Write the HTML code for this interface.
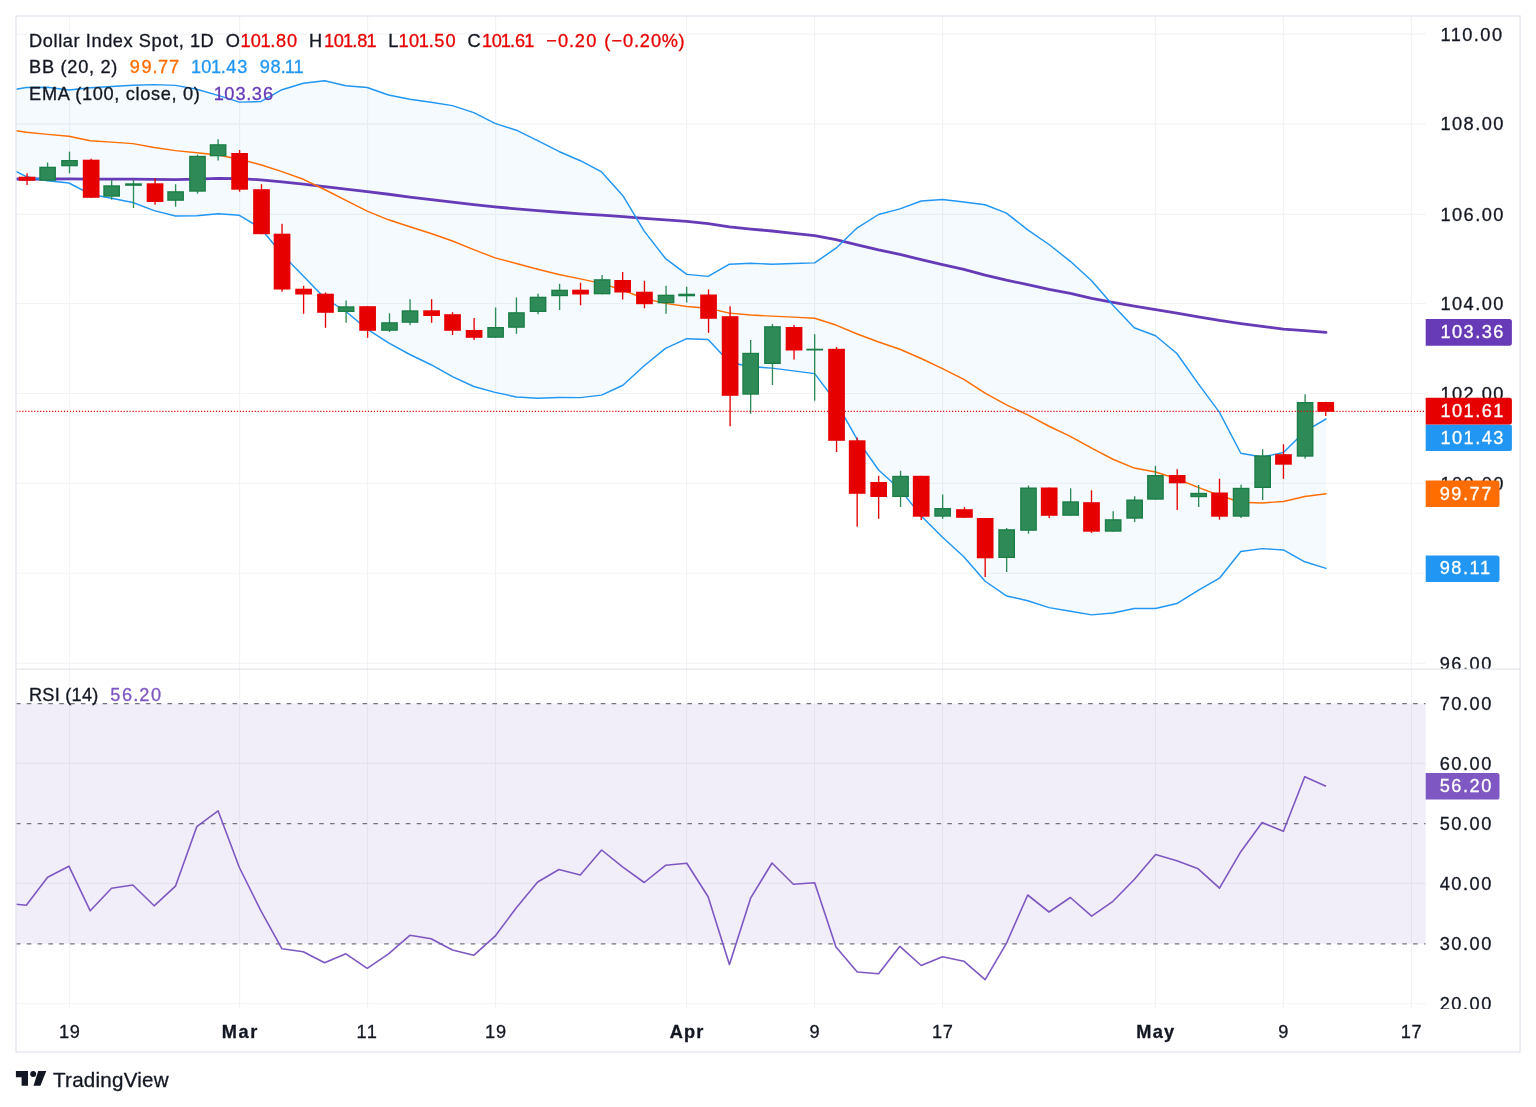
<!DOCTYPE html>
<html lang="en"><head><meta charset="utf-8"><title>Dollar Index Spot, 1D - TradingView</title>
<style>html,body{margin:0;padding:0;background:#fff}body{width:1536px;height:1107px;overflow:hidden}svg{display:block}text{white-space:pre}</style></head>
<body>
<svg width="1536" height="1107" viewBox="0 0 1536 1107" font-family="'Liberation Sans', Arial, sans-serif">
<rect width="1536" height="1107" fill="#fff"/>
<defs><clipPath id="cm"><rect x="16" y="16" width="1409.7" height="653.1"/></clipPath><clipPath id="cr"><rect x="16" y="669.6" width="1409.7" height="339.4"/></clipPath><clipPath id="ca"><rect x="1425.7" y="16" width="95" height="652.6"/></clipPath><clipPath id="cb"><rect x="1425.7" y="669.6" width="95" height="339.4"/></clipPath></defs>
<path d="M69.50 16V1008.5 M239.60 16V1008.5 M367.60 16V1008.5 M495.60 16V1008.5 M686.60 16V1008.5 M814.60 16V1008.5 M942.60 16V1008.5 M1155.40 16V1008.5 M1283.40 16V1008.5 M1411.40 16V1008.5 M16 34.10H1425.7 M16 123.80H1425.7 M16 214.30H1425.7 M16 303.50H1425.7 M16 393.50H1425.7 M16 483.20H1425.7 M16 573.20H1425.7 M16 663.20H1425.7 M16 763.40H1425.7 M16 883.30H1425.7 M16 1003.70H1425.7" stroke="#f2f3f5" stroke-width="1.15" fill="none"/>
<rect x="16" y="703.60" width="1409.70" height="240.30" fill="#7e57c2" fill-opacity="0.1"/>
<g clip-path="url(#cm)">
<polygon points="16.00,89.20 26.30,87.50 47.61,87.30 68.91,90.00 90.22,87.70 111.53,86.50 132.84,85.20 154.14,84.60 175.45,85.40 196.76,89.20 218.06,95.40 239.37,102.10 260.68,101.60 281.98,89.70 303.29,83.30 324.60,80.80 345.90,85.80 367.21,87.50 388.52,95.00 409.83,99.20 431.13,102.28 452.44,105.61 473.75,112.63 495.05,123.43 516.36,130.20 537.67,140.56 558.97,151.47 580.28,160.73 601.59,171.92 622.90,195.73 644.20,231.12 665.51,258.55 686.82,274.35 708.12,276.39 729.43,264.18 750.74,263.16 772.04,264.29 793.35,263.44 814.66,262.85 835.97,248.15 857.27,227.78 878.58,214.50 899.89,208.91 921.19,201.05 942.50,199.56 963.81,202.09 985.11,204.75 1006.42,213.16 1027.73,229.81 1049.04,244.51 1070.34,261.33 1091.65,280.81 1112.96,305.17 1134.26,327.80 1155.57,335.77 1176.88,353.52 1198.18,383.65 1219.49,412.41 1240.80,453.25 1262.11,457.02 1283.41,452.58 1304.72,431.47 1326.03,419.00 1326.03,568.40 1304.72,561.76 1283.41,549.94 1262.11,548.64 1240.80,551.43 1219.49,578.18 1198.18,590.39 1176.88,603.58 1155.57,608.56 1134.26,608.57 1112.96,613.01 1091.65,614.85 1070.34,611.18 1049.04,607.65 1027.73,600.73 1006.42,595.96 985.11,581.24 963.81,556.67 942.50,537.30 921.19,515.96 899.89,489.17 878.58,470.03 857.27,439.64 835.97,401.88 814.66,373.65 793.35,370.89 772.04,368.10 750.74,366.74 729.43,362.22 708.12,339.55 686.82,338.67 665.51,348.40 644.20,365.72 622.90,385.22 601.59,395.14 580.28,397.63 558.97,397.52 537.67,398.21 516.36,396.94 495.05,392.34 473.75,386.50 452.44,376.56 431.13,364.74 409.83,354.50 388.52,342.80 367.21,329.20 345.90,311.50 324.60,298.00 303.29,276.00 281.98,254.30 260.68,228.20 239.37,215.30 218.06,213.80 196.76,215.80 175.45,216.00 154.14,210.60 132.84,202.50 111.53,198.30 90.22,194.20 68.91,183.00 47.61,180.80 26.30,176.70 16.00,171.50" fill="#2196f3" fill-opacity="0.05"/>
<path d="M16.00 179.00 L26.30 179.00 L47.61 178.98 L68.91 178.84 L90.22 179.03 L111.53 179.10 L132.84 179.14 L154.14 179.37 L175.45 179.54 L196.76 179.10 L218.06 178.45 L239.37 178.62 L260.68 179.86 L281.98 181.95 L303.29 184.11 L324.60 186.64 L345.90 189.02 L367.21 191.67 L388.52 194.26 L409.83 197.16 L431.13 199.59 L452.44 202.14 L473.75 204.59 L495.05 206.80 L516.36 208.84 L537.67 210.61 L558.97 212.24 L580.28 213.81 L601.59 215.11 L622.90 216.72 L644.20 218.39 L665.51 219.84 L686.82 221.32 L708.12 223.53 L729.43 226.79 L750.74 229.04 L772.04 231.00 L793.35 233.43 L814.66 235.67 L835.97 239.55 L857.27 244.96 L878.58 249.96 L899.89 254.45 L921.19 259.54 L942.50 264.60 L963.81 269.36 L985.11 275.07 L1006.42 280.13 L1027.73 284.69 L1049.04 289.33 L1070.34 293.32 L1091.65 298.29 L1112.96 302.38 L1134.26 306.19 L1155.57 309.61 L1176.88 313.13 L1198.18 316.76 L1219.49 320.49 L1240.80 323.65 L1262.11 326.45 L1283.41 329.07 L1304.72 330.69 L1326.03 332.30" fill="none" stroke="#673ab7" stroke-width="2.8" stroke-linejoin="round" stroke-linecap="round"/>
<path d="M16.00 130.70 L26.30 132.30 L47.61 134.40 L68.91 136.30 L90.22 140.70 L111.53 142.10 L132.84 143.60 L154.14 147.50 L175.45 150.60 L196.76 152.80 L218.06 155.00 L239.37 159.20 L260.68 164.80 L281.98 171.60 L303.29 179.30 L324.60 189.50 L345.90 200.40 L367.21 211.20 L388.52 219.80 L409.83 226.70 L431.13 233.49 L452.44 240.99 L473.75 249.61 L495.05 257.89 L516.36 263.55 L537.67 269.18 L558.97 274.44 L580.28 278.90 L601.59 283.35 L622.90 290.27 L644.20 298.42 L665.51 303.40 L686.82 306.48 L708.12 308.27 L729.43 313.15 L750.74 315.05 L772.04 316.15 L793.35 317.14 L814.66 318.30 L835.97 325.06 L857.27 334.01 L878.58 342.01 L899.89 349.22 L921.19 358.51 L942.50 368.60 L963.81 379.38 L985.11 393.14 L1006.42 404.86 L1027.73 414.82 L1049.04 426.25 L1070.34 436.32 L1091.65 448.16 L1112.96 459.24 L1134.26 468.06 L1155.57 471.99 L1176.88 478.75 L1198.18 487.31 L1219.49 495.47 L1240.80 502.20 L1262.11 502.96 L1283.41 501.43 L1304.72 496.56 L1326.03 493.70" fill="none" stroke="#ff6d00" stroke-width="1.45" stroke-linejoin="round" stroke-linecap="round"/>
<path d="M16.00 89.20 L26.30 87.50 L47.61 87.30 L68.91 90.00 L90.22 87.70 L111.53 86.50 L132.84 85.20 L154.14 84.60 L175.45 85.40 L196.76 89.20 L218.06 95.40 L239.37 102.10 L260.68 101.60 L281.98 89.70 L303.29 83.30 L324.60 80.80 L345.90 85.80 L367.21 87.50 L388.52 95.00 L409.83 99.20 L431.13 102.28 L452.44 105.61 L473.75 112.63 L495.05 123.43 L516.36 130.20 L537.67 140.56 L558.97 151.47 L580.28 160.73 L601.59 171.92 L622.90 195.73 L644.20 231.12 L665.51 258.55 L686.82 274.35 L708.12 276.39 L729.43 264.18 L750.74 263.16 L772.04 264.29 L793.35 263.44 L814.66 262.85 L835.97 248.15 L857.27 227.78 L878.58 214.50 L899.89 208.91 L921.19 201.05 L942.50 199.56 L963.81 202.09 L985.11 204.75 L1006.42 213.16 L1027.73 229.81 L1049.04 244.51 L1070.34 261.33 L1091.65 280.81 L1112.96 305.17 L1134.26 327.80 L1155.57 335.77 L1176.88 353.52 L1198.18 383.65 L1219.49 412.41 L1240.80 453.25 L1262.11 457.02 L1283.41 452.58 L1304.72 431.47 L1326.03 419.00" fill="none" stroke="#2196f3" stroke-width="1.45" stroke-linejoin="round" stroke-linecap="round"/>
<path d="M16.00 171.50 L26.30 176.70 L47.61 180.80 L68.91 183.00 L90.22 194.20 L111.53 198.30 L132.84 202.50 L154.14 210.60 L175.45 216.00 L196.76 215.80 L218.06 213.80 L239.37 215.30 L260.68 228.20 L281.98 254.30 L303.29 276.00 L324.60 298.00 L345.90 311.50 L367.21 329.20 L388.52 342.80 L409.83 354.50 L431.13 364.74 L452.44 376.56 L473.75 386.50 L495.05 392.34 L516.36 396.94 L537.67 398.21 L558.97 397.52 L580.28 397.63 L601.59 395.14 L622.90 385.22 L644.20 365.72 L665.51 348.40 L686.82 338.67 L708.12 339.55 L729.43 362.22 L750.74 366.74 L772.04 368.10 L793.35 370.89 L814.66 373.65 L835.97 401.88 L857.27 439.64 L878.58 470.03 L899.89 489.17 L921.19 515.96 L942.50 537.30 L963.81 556.67 L985.11 581.24 L1006.42 595.96 L1027.73 600.73 L1049.04 607.65 L1070.34 611.18 L1091.65 614.85 L1112.96 613.01 L1134.26 608.57 L1155.57 608.56 L1176.88 603.58 L1198.18 590.39 L1219.49 578.18 L1240.80 551.43 L1262.11 548.64 L1283.41 549.94 L1304.72 561.76 L1326.03 568.40" fill="none" stroke="#2196f3" stroke-width="1.45" stroke-linejoin="round" stroke-linecap="round"/>
<rect x="26.38" y="173.30" width="1.34" height="11.70" fill="#e60000"/>
<rect x="18.70" y="176.70" width="16.7" height="4.10" fill="#e60000"/>
<rect x="46.93" y="162.50" width="1.34" height="18.30" fill="#2e8b57"/>
<rect x="39.25" y="166.70" width="16.7" height="14.10" fill="#1a7d45"/>
<rect x="40.55" y="168.00" width="14.10" height="11.50" fill="#2e8b57"/>
<rect x="68.83" y="151.70" width="1.34" height="21.60" fill="#2e8b57"/>
<rect x="61.15" y="160.00" width="16.7" height="6.30" fill="#1a7d45"/>
<rect x="62.45" y="161.30" width="14.10" height="3.70" fill="#2e8b57"/>
<rect x="90.48" y="158.70" width="1.34" height="39.10" fill="#e60000"/>
<rect x="82.80" y="159.70" width="16.7" height="38.10" fill="#e60000"/>
<rect x="110.98" y="180.00" width="1.34" height="19.70" fill="#2e8b57"/>
<rect x="103.30" y="185.30" width="16.7" height="11.40" fill="#1a7d45"/>
<rect x="104.60" y="186.60" width="14.10" height="8.80" fill="#2e8b57"/>
<rect x="132.83" y="180.00" width="1.34" height="28.00" fill="#2e8b57"/>
<rect x="125.15" y="183.30" width="16.7" height="2.50" fill="#1a7d45"/>
<rect x="154.38" y="178.30" width="1.34" height="26.40" fill="#e60000"/>
<rect x="146.70" y="183.30" width="16.7" height="18.70" fill="#e60000"/>
<rect x="174.93" y="184.20" width="1.34" height="22.50" fill="#2e8b57"/>
<rect x="167.25" y="191.20" width="16.7" height="9.60" fill="#1a7d45"/>
<rect x="168.55" y="192.50" width="14.10" height="7.00" fill="#2e8b57"/>
<rect x="196.83" y="154.70" width="1.34" height="39.00" fill="#2e8b57"/>
<rect x="189.15" y="155.80" width="16.7" height="35.90" fill="#1a7d45"/>
<rect x="190.45" y="157.10" width="14.10" height="33.30" fill="#2e8b57"/>
<rect x="217.43" y="139.20" width="1.34" height="21.30" fill="#2e8b57"/>
<rect x="209.75" y="144.20" width="16.7" height="12.10" fill="#1a7d45"/>
<rect x="211.05" y="145.50" width="14.10" height="9.50" fill="#2e8b57"/>
<rect x="238.93" y="150.00" width="1.34" height="41.70" fill="#e60000"/>
<rect x="231.25" y="153.00" width="16.7" height="36.70" fill="#e60000"/>
<rect x="260.83" y="184.20" width="1.34" height="50.00" fill="#e60000"/>
<rect x="253.15" y="189.20" width="16.7" height="45.00" fill="#e60000"/>
<rect x="281.38" y="223.80" width="1.34" height="67.90" fill="#e60000"/>
<rect x="273.70" y="233.70" width="16.7" height="55.80" fill="#e60000"/>
<rect x="302.93" y="285.80" width="1.34" height="28.00" fill="#e60000"/>
<rect x="295.25" y="288.70" width="16.7" height="5.80" fill="#e60000"/>
<rect x="324.83" y="292.50" width="1.34" height="35.30" fill="#e60000"/>
<rect x="317.15" y="293.70" width="16.7" height="19.10" fill="#e60000"/>
<rect x="345.43" y="300.50" width="1.34" height="22.30" fill="#2e8b57"/>
<rect x="337.75" y="306.30" width="16.7" height="5.70" fill="#1a7d45"/>
<rect x="339.05" y="307.60" width="14.10" height="3.10" fill="#2e8b57"/>
<rect x="366.93" y="306.20" width="1.34" height="31.60" fill="#e60000"/>
<rect x="359.25" y="306.20" width="16.7" height="24.60" fill="#e60000"/>
<rect x="388.83" y="313.30" width="1.34" height="18.70" fill="#2e8b57"/>
<rect x="381.15" y="322.20" width="16.7" height="8.60" fill="#1a7d45"/>
<rect x="382.45" y="323.50" width="14.10" height="6.00" fill="#2e8b57"/>
<rect x="409.38" y="299.20" width="1.34" height="25.80" fill="#2e8b57"/>
<rect x="401.70" y="310.30" width="16.7" height="12.50" fill="#1a7d45"/>
<rect x="403.00" y="311.60" width="14.10" height="9.90" fill="#2e8b57"/>
<rect x="430.93" y="299.20" width="1.34" height="23.60" fill="#e60000"/>
<rect x="423.25" y="310.30" width="16.7" height="5.70" fill="#e60000"/>
<rect x="451.88" y="312.20" width="1.34" height="22.80" fill="#e60000"/>
<rect x="444.20" y="314.20" width="16.7" height="16.60" fill="#e60000"/>
<rect x="473.43" y="318.00" width="1.34" height="22.00" fill="#e60000"/>
<rect x="465.75" y="330.00" width="16.7" height="7.80" fill="#e60000"/>
<rect x="494.93" y="307.50" width="1.34" height="30.30" fill="#2e8b57"/>
<rect x="487.25" y="327.00" width="16.7" height="10.80" fill="#1a7d45"/>
<rect x="488.55" y="328.30" width="14.10" height="8.20" fill="#2e8b57"/>
<rect x="515.78" y="297.50" width="1.34" height="36.30" fill="#2e8b57"/>
<rect x="508.10" y="312.20" width="16.7" height="15.60" fill="#1a7d45"/>
<rect x="509.40" y="313.50" width="14.10" height="13.00" fill="#2e8b57"/>
<rect x="537.38" y="293.70" width="1.34" height="20.50" fill="#2e8b57"/>
<rect x="529.70" y="296.70" width="16.7" height="15.30" fill="#1a7d45"/>
<rect x="531.00" y="298.00" width="14.10" height="12.70" fill="#2e8b57"/>
<rect x="558.93" y="283.80" width="1.34" height="26.20" fill="#2e8b57"/>
<rect x="551.25" y="289.70" width="16.7" height="6.50" fill="#1a7d45"/>
<rect x="552.55" y="291.00" width="14.10" height="3.90" fill="#2e8b57"/>
<rect x="579.88" y="282.80" width="1.34" height="22.50" fill="#e60000"/>
<rect x="572.20" y="289.70" width="16.7" height="4.80" fill="#e60000"/>
<rect x="601.43" y="275.00" width="1.34" height="19.30" fill="#2e8b57"/>
<rect x="593.75" y="279.20" width="16.7" height="15.10" fill="#1a7d45"/>
<rect x="595.05" y="280.50" width="14.10" height="12.50" fill="#2e8b57"/>
<rect x="621.98" y="272.00" width="1.34" height="27.50" fill="#e60000"/>
<rect x="614.30" y="280.00" width="16.7" height="12.50" fill="#e60000"/>
<rect x="643.78" y="280.80" width="1.34" height="27.50" fill="#e60000"/>
<rect x="636.10" y="291.70" width="16.7" height="12.50" fill="#e60000"/>
<rect x="665.38" y="285.80" width="1.34" height="28.00" fill="#2e8b57"/>
<rect x="657.70" y="294.70" width="16.7" height="8.60" fill="#1a7d45"/>
<rect x="659.00" y="296.00" width="14.10" height="6.00" fill="#2e8b57"/>
<rect x="685.98" y="286.70" width="1.34" height="15.80" fill="#2e8b57"/>
<rect x="678.30" y="293.70" width="16.7" height="2.60" fill="#1a7d45"/>
<rect x="707.88" y="289.50" width="1.34" height="43.30" fill="#e60000"/>
<rect x="700.20" y="294.50" width="16.7" height="24.30" fill="#e60000"/>
<rect x="729.43" y="306.30" width="1.34" height="120.00" fill="#e60000"/>
<rect x="721.75" y="316.20" width="16.7" height="79.60" fill="#e60000"/>
<rect x="749.98" y="340.00" width="1.34" height="73.70" fill="#2e8b57"/>
<rect x="742.30" y="352.80" width="16.7" height="41.90" fill="#1a7d45"/>
<rect x="743.60" y="354.10" width="14.10" height="39.30" fill="#2e8b57"/>
<rect x="771.78" y="324.00" width="1.34" height="61.00" fill="#2e8b57"/>
<rect x="764.10" y="326.20" width="16.7" height="37.80" fill="#1a7d45"/>
<rect x="765.40" y="327.50" width="14.10" height="35.20" fill="#2e8b57"/>
<rect x="793.38" y="325.00" width="1.34" height="34.50" fill="#e60000"/>
<rect x="785.70" y="327.00" width="16.7" height="23.50" fill="#e60000"/>
<rect x="813.98" y="334.20" width="1.34" height="66.60" fill="#2e8b57"/>
<rect x="806.30" y="348.70" width="16.7" height="1.80" fill="#1a7d45"/>
<rect x="835.88" y="347.00" width="1.34" height="105.00" fill="#e60000"/>
<rect x="828.20" y="348.80" width="16.7" height="92.00" fill="#e60000"/>
<rect x="856.50" y="437.50" width="1.34" height="89.20" fill="#e60000"/>
<rect x="848.82" y="440.30" width="16.7" height="53.50" fill="#e60000"/>
<rect x="877.98" y="475.80" width="1.34" height="43.00" fill="#e60000"/>
<rect x="870.30" y="482.00" width="16.7" height="15.00" fill="#e60000"/>
<rect x="899.88" y="470.80" width="1.34" height="36.20" fill="#2e8b57"/>
<rect x="892.20" y="475.80" width="16.7" height="21.20" fill="#1a7d45"/>
<rect x="893.50" y="477.10" width="14.10" height="18.60" fill="#2e8b57"/>
<rect x="920.53" y="475.80" width="1.34" height="44.20" fill="#e60000"/>
<rect x="912.85" y="475.80" width="16.7" height="40.90" fill="#e60000"/>
<rect x="941.98" y="494.50" width="1.34" height="24.30" fill="#2e8b57"/>
<rect x="934.30" y="508.00" width="16.7" height="8.70" fill="#1a7d45"/>
<rect x="935.60" y="509.30" width="14.10" height="6.10" fill="#2e8b57"/>
<rect x="963.78" y="507.20" width="1.34" height="10.60" fill="#e60000"/>
<rect x="956.10" y="509.20" width="16.7" height="8.60" fill="#e60000"/>
<rect x="984.50" y="518.00" width="1.34" height="59.00" fill="#e60000"/>
<rect x="976.82" y="518.00" width="16.7" height="40.30" fill="#e60000"/>
<rect x="1005.98" y="528.00" width="1.34" height="44.00" fill="#2e8b57"/>
<rect x="998.30" y="529.20" width="16.7" height="28.80" fill="#1a7d45"/>
<rect x="999.60" y="530.50" width="14.10" height="26.20" fill="#2e8b57"/>
<rect x="1027.83" y="485.50" width="1.34" height="48.20" fill="#2e8b57"/>
<rect x="1020.15" y="487.50" width="16.7" height="43.30" fill="#1a7d45"/>
<rect x="1021.45" y="488.80" width="14.10" height="40.70" fill="#2e8b57"/>
<rect x="1048.53" y="487.50" width="1.34" height="30.50" fill="#e60000"/>
<rect x="1040.85" y="487.50" width="16.7" height="28.30" fill="#e60000"/>
<rect x="1069.98" y="488.30" width="1.34" height="27.50" fill="#2e8b57"/>
<rect x="1062.30" y="501.30" width="16.7" height="14.50" fill="#1a7d45"/>
<rect x="1063.60" y="502.60" width="14.10" height="11.90" fill="#2e8b57"/>
<rect x="1090.83" y="490.30" width="1.34" height="42.70" fill="#e60000"/>
<rect x="1083.15" y="502.20" width="16.7" height="29.50" fill="#e60000"/>
<rect x="1112.50" y="511.20" width="1.34" height="20.50" fill="#2e8b57"/>
<rect x="1104.82" y="519.20" width="16.7" height="12.50" fill="#1a7d45"/>
<rect x="1106.12" y="520.50" width="14.10" height="9.90" fill="#2e8b57"/>
<rect x="1133.98" y="496.20" width="1.34" height="25.80" fill="#2e8b57"/>
<rect x="1126.30" y="499.50" width="16.7" height="19.20" fill="#1a7d45"/>
<rect x="1127.60" y="500.80" width="14.10" height="16.60" fill="#2e8b57"/>
<rect x="1154.78" y="465.80" width="1.34" height="33.90" fill="#2e8b57"/>
<rect x="1147.10" y="475.00" width="16.7" height="24.70" fill="#1a7d45"/>
<rect x="1148.40" y="476.30" width="14.10" height="22.10" fill="#2e8b57"/>
<rect x="1176.53" y="469.20" width="1.34" height="40.80" fill="#e60000"/>
<rect x="1168.85" y="475.00" width="16.7" height="8.30" fill="#e60000"/>
<rect x="1197.98" y="485.00" width="1.34" height="22.00" fill="#2e8b57"/>
<rect x="1190.30" y="492.80" width="16.7" height="4.40" fill="#1a7d45"/>
<rect x="1191.60" y="494.10" width="14.10" height="1.80" fill="#2e8b57"/>
<rect x="1218.83" y="478.70" width="1.34" height="41.00" fill="#e60000"/>
<rect x="1211.15" y="492.50" width="16.7" height="24.20" fill="#e60000"/>
<rect x="1240.43" y="484.70" width="1.34" height="33.30" fill="#2e8b57"/>
<rect x="1232.75" y="487.80" width="16.7" height="28.90" fill="#1a7d45"/>
<rect x="1234.05" y="489.10" width="14.10" height="26.30" fill="#2e8b57"/>
<rect x="1261.98" y="449.20" width="1.34" height="50.80" fill="#2e8b57"/>
<rect x="1254.30" y="455.30" width="16.7" height="32.70" fill="#1a7d45"/>
<rect x="1255.60" y="456.60" width="14.10" height="30.10" fill="#2e8b57"/>
<rect x="1282.78" y="444.20" width="1.34" height="34.60" fill="#e60000"/>
<rect x="1275.10" y="454.20" width="16.7" height="10.50" fill="#e60000"/>
<rect x="1304.43" y="394.20" width="1.34" height="64.50" fill="#2e8b57"/>
<rect x="1296.75" y="402.00" width="16.7" height="54.70" fill="#1a7d45"/>
<rect x="1298.05" y="403.30" width="14.10" height="52.10" fill="#2e8b57"/>
<rect x="1325.08" y="401.80" width="1.34" height="14.20" fill="#e60000"/>
<rect x="1317.40" y="402.00" width="16.7" height="9.80" fill="#e60000"/>
<path d="M16 411.3H1425.7" stroke="#e60000" stroke-width="1.25" stroke-dasharray="1.15 1.83" stroke-dashoffset="-0.3" fill="none"/>
</g>
<g clip-path="url(#cr)">
<path d="M15.92 703.60H1425.7 M15.92 823.60H1425.7 M15.92 943.90H1425.7" stroke="#72757e" stroke-width="1.4" stroke-dasharray="4.6 6.2307" fill="none"/>
<path d="M16.00 904.20 L26.30 905.30 L47.61 877.20 L68.91 866.20 L90.22 910.80 L111.53 888.30 L132.84 885.00 L154.14 905.80 L175.45 886.20 L196.76 826.70 L218.06 810.80 L239.37 867.50 L260.68 910.40 L281.98 948.80 L303.29 951.70 L324.60 962.80 L345.90 953.80 L367.21 968.30 L388.52 953.80 L409.83 935.30 L431.13 938.70 L452.44 950.00 L473.75 955.30 L495.05 936.20 L516.36 907.80 L537.67 882.00 L558.97 869.50 L580.28 875.00 L601.59 850.00 L622.90 867.20 L644.20 882.50 L665.51 865.30 L686.82 863.30 L708.12 896.70 L729.43 964.60 L750.74 897.80 L772.04 863.00 L793.35 884.20 L814.66 882.80 L835.97 947.00 L857.27 972.00 L878.58 973.70 L899.89 946.30 L921.19 965.50 L942.50 956.70 L963.81 961.20 L985.11 979.60 L1006.42 943.30 L1027.73 895.00 L1049.04 912.00 L1070.34 897.50 L1091.65 916.20 L1112.96 901.30 L1134.26 879.50 L1155.57 854.50 L1176.88 860.80 L1198.18 868.80 L1219.49 888.20 L1240.80 851.70 L1262.11 822.50 L1283.41 831.30 L1304.72 776.70 L1326.03 786.30" fill="none" stroke="#7e57c2" stroke-width="1.6" stroke-linejoin="round"/>
</g>
<path d="M16 669.1H1520.1" stroke="#e3e6ed" stroke-width="1.33" fill="none"/>
<rect x="16.0" y="16.0" width="1504.1" height="1036.0" fill="none" stroke="#e3e6ed" stroke-width="1.33"/>
<text clip-path="url(#ca)" x="1440.41" y="40.50" font-size="18.2" fill="#131722" stroke="#131722" stroke-width="0.3" style="letter-spacing:1.466px">110.00</text>
<text clip-path="url(#ca)" x="1440.41" y="130.20" font-size="18.2" fill="#131722" stroke="#131722" stroke-width="0.3" style="letter-spacing:1.466px">108.00</text>
<text clip-path="url(#ca)" x="1440.41" y="220.70" font-size="18.2" fill="#131722" stroke="#131722" stroke-width="0.3" style="letter-spacing:1.466px">106.00</text>
<text clip-path="url(#ca)" x="1440.41" y="309.90" font-size="18.2" fill="#131722" stroke="#131722" stroke-width="0.3" style="letter-spacing:1.466px">104.00</text>
<text clip-path="url(#ca)" x="1440.41" y="399.90" font-size="18.2" fill="#131722" stroke="#131722" stroke-width="0.3" style="letter-spacing:1.466px">102.00</text>
<text clip-path="url(#ca)" x="1440.41" y="489.60" font-size="18.2" fill="#131722" stroke="#131722" stroke-width="0.3" style="letter-spacing:1.466px">100.00</text>
<text clip-path="url(#ca)" x="1439.65" y="579.60" font-size="18.2" fill="#131722" stroke="#131722" stroke-width="0.3" style="letter-spacing:1.556px">98.00</text>
<text clip-path="url(#ca)" x="1439.65" y="669.60" font-size="18.2" fill="#131722" stroke="#131722" stroke-width="0.3" style="letter-spacing:1.556px">96.00</text>
<text clip-path="url(#cb)" x="1439.65" y="710.00" font-size="18.2" fill="#131722" stroke="#131722" stroke-width="0.3" style="letter-spacing:1.556px">70.00</text>
<text clip-path="url(#cb)" x="1439.65" y="769.80" font-size="18.2" fill="#131722" stroke="#131722" stroke-width="0.3" style="letter-spacing:1.556px">60.00</text>
<text clip-path="url(#cb)" x="1439.65" y="830.00" font-size="18.2" fill="#131722" stroke="#131722" stroke-width="0.3" style="letter-spacing:1.556px">50.00</text>
<text clip-path="url(#cb)" x="1439.65" y="889.70" font-size="18.2" fill="#131722" stroke="#131722" stroke-width="0.3" style="letter-spacing:1.556px">40.00</text>
<text clip-path="url(#cb)" x="1439.65" y="950.30" font-size="18.2" fill="#131722" stroke="#131722" stroke-width="0.3" style="letter-spacing:1.556px">30.00</text>
<text clip-path="url(#cb)" x="1439.65" y="1010.10" font-size="18.2" fill="#131722" stroke="#131722" stroke-width="0.3" style="letter-spacing:1.556px">20.00</text>
<path d="M1425.70 319.10H1509.30a2.6 2.6 0 0 1 2.6 2.6V343.10a2.6 2.6 0 0 1 -2.6 2.6H1425.70Z" fill="#673ab7"/>
<text x="1440.41" y="338.10" font-size="18.2" fill="#fff" stroke="#fff" stroke-width="0.3" style="letter-spacing:1.466px">103.36</text>
<path d="M1425.70 424.50H1509.30a2.6 2.6 0 0 1 2.6 2.6V448.50a2.6 2.6 0 0 1 -2.6 2.6H1425.70Z" fill="#2196f3"/>
<text x="1440.41" y="443.50" font-size="18.2" fill="#fff" stroke="#fff" stroke-width="0.3" style="letter-spacing:1.466px">101.43</text>
<path d="M1425.70 397.80H1509.30a2.6 2.6 0 0 1 2.6 2.6V421.80a2.6 2.6 0 0 1 -2.6 2.6H1425.70Z" fill="#e60000"/>
<text x="1440.41" y="416.80" font-size="18.2" fill="#fff" stroke="#fff" stroke-width="0.3" style="letter-spacing:1.466px">101.61</text>
<path d="M1425.70 480.50H1496.90a2.6 2.6 0 0 1 2.6 2.6V504.50a2.6 2.6 0 0 1 -2.6 2.6H1425.70Z" fill="#ff6d00"/>
<text x="1439.65" y="499.50" font-size="18.2" fill="#fff" stroke="#fff" stroke-width="0.3" style="letter-spacing:1.556px">99.77</text>
<path d="M1425.70 555.40H1496.90a2.6 2.6 0 0 1 2.6 2.6V579.40a2.6 2.6 0 0 1 -2.6 2.6H1425.70Z" fill="#2196f3"/>
<text x="1439.65" y="574.40" font-size="18.2" fill="#fff" stroke="#fff" stroke-width="0.3" style="letter-spacing:1.556px">98.11</text>
<path d="M1425.70 773.00H1496.90a2.6 2.6 0 0 1 2.6 2.6V797.00a2.6 2.6 0 0 1 -2.6 2.6H1425.70Z" fill="#7e57c2"/>
<text x="1439.65" y="792.00" font-size="18.2" fill="#fff" stroke="#fff" stroke-width="0.3" style="letter-spacing:1.556px">56.20</text>
<text x="58.91" y="1037.50" font-size="18.2" fill="#131722" stroke="#131722" stroke-width="0.3" style="letter-spacing:0.804px">19</text>
<text x="221.68" y="1037.50" font-size="18.2" fill="#131722" stroke="#131722" stroke-width="0.3" font-weight="700" style="letter-spacing:1.664px">Mar</text>
<text x="356.46" y="1037.50" font-size="18.2" fill="#131722" stroke="#131722" stroke-width="0.3" style="letter-spacing:1.531px">11</text>
<text x="485.01" y="1037.50" font-size="18.2" fill="#131722" stroke="#131722" stroke-width="0.3" style="letter-spacing:0.804px">19</text>
<text x="669.65" y="1037.50" font-size="18.2" fill="#131722" stroke="#131722" stroke-width="0.3" font-weight="700" style="letter-spacing:1.193px">Apr</text>
<text x="809.55" y="1037.50" font-size="18.2" fill="#131722" stroke="#131722" stroke-width="0.3" style="letter-spacing:0.000px">9</text>
<text x="931.91" y="1037.50" font-size="18.2" fill="#131722" stroke="#131722" stroke-width="0.3" style="letter-spacing:0.658px">17</text>
<text x="1136.28" y="1037.50" font-size="18.2" fill="#131722" stroke="#131722" stroke-width="0.3" font-weight="700" style="letter-spacing:1.255px">May</text>
<text x="1278.35" y="1037.50" font-size="18.2" fill="#131722" stroke="#131722" stroke-width="0.3" style="letter-spacing:0.000px">9</text>
<text x="1400.71" y="1037.50" font-size="18.2" fill="#131722" stroke="#131722" stroke-width="0.3" style="letter-spacing:0.658px">17</text>
<text x="29.11" y="47.40" font-size="18.2" fill="#131722" stroke="#131722" stroke-width="0.3" style="letter-spacing:0.589px">Dollar Index Spot, 1D</text>
<text x="225.84" y="47.40" font-size="18.2" fill="#131722" stroke="#131722" stroke-width="0.3" style="letter-spacing:0.000px">O</text>
<text x="240.51 250.80 260.59 270.37 275.89 286.99" y="47.40" font-size="18.2" fill="#e60000" stroke="#e60000" stroke-width="0.3">101.80</text>
<text x="308.91" y="47.40" font-size="18.2" fill="#131722" stroke="#131722" stroke-width="0.3" style="letter-spacing:0.000px">H</text>
<text x="324.01 333.70 342.88 352.24 357.28 366.47" y="47.40" font-size="18.2" fill="#e60000" stroke="#e60000" stroke-width="0.3">101.81</text>
<text x="388.31" y="47.40" font-size="18.2" fill="#131722" stroke="#131722" stroke-width="0.3" style="letter-spacing:0.000px">L</text>
<text x="398.51 408.93 418.85 428.72 434.36 445.59" y="47.40" font-size="18.2" fill="#e60000" stroke="#e60000" stroke-width="0.3">101.50</text>
<text x="467.48" y="47.40" font-size="18.2" fill="#131722" stroke="#131722" stroke-width="0.3" style="letter-spacing:0.000px">C</text>
<text x="482.01 491.65 500.79 510.12 515.06 524.27" y="47.40" font-size="18.2" fill="#e60000" stroke="#e60000" stroke-width="0.3">101.61</text>
<text x="546.20 558.03 568.93 574.77 586.29" y="47.40" font-size="18.2" fill="#e60000" stroke="#e60000" stroke-width="0.3">−0.20</text>
<text x="604.27 611.38 623.11 633.93 639.69 651.10 661.83 678.57" y="47.40" font-size="18.2" fill="#e60000" stroke="#e60000" stroke-width="0.3">(−0.20%)</text>
<text x="29.11" y="73.30" font-size="18.2" fill="#131722" stroke="#131722" stroke-width="0.3" style="letter-spacing:0.710px">BB (20, 2)</text>
<text x="129.75 141.43 152.44 158.02 168.99" y="73.30" font-size="18.2" fill="#ff6d00" stroke="#ff6d00" stroke-width="0.3">99.77</text>
<text x="191.01 201.24 210.97 220.71 226.25 237.28" y="73.30" font-size="18.2" fill="#2196f3" stroke="#2196f3" stroke-width="0.3">101.43</text>
<text x="259.75 270.51 280.86 284.86 293.57" y="73.30" font-size="18.2" fill="#2196f3" stroke="#2196f3" stroke-width="0.3">98.11</text>
<text x="29.11" y="100.40" font-size="18.2" fill="#131722" stroke="#131722" stroke-width="0.3" style="letter-spacing:0.661px">EMA (100, close, 0)</text>
<text x="213.81 224.23 235.53 246.17 251.85 262.98" y="100.40" font-size="18.2" fill="#673ab7" stroke="#673ab7" stroke-width="0.3">103.36</text>
<text x="28.91" y="701.40" font-size="18.2" fill="#131722" stroke="#131722" stroke-width="0.3" style="letter-spacing:0.251px">RSI (14)</text>
<text x="110.37 122.03 133.15 139.15 150.89" y="701.40" font-size="18.2" fill="#7e57c2" stroke="#7e57c2" stroke-width="0.3">56.20</text>
<path d="M15.9 1070.9H28V1085.8H21.6V1077.2H15.9Z M38.2 1070.9H46.3L40.4 1085.8H33.5Z" fill="#131722"/>
<circle cx="33.2" cy="1074.1" r="3.0" fill="#131722"/>
<text x="53.04" y="1086.90" font-size="20.6" fill="#131722" stroke="#131722" stroke-width="0.3" style="letter-spacing:0.232px">TradingView</text>
</svg>
</body></html>
